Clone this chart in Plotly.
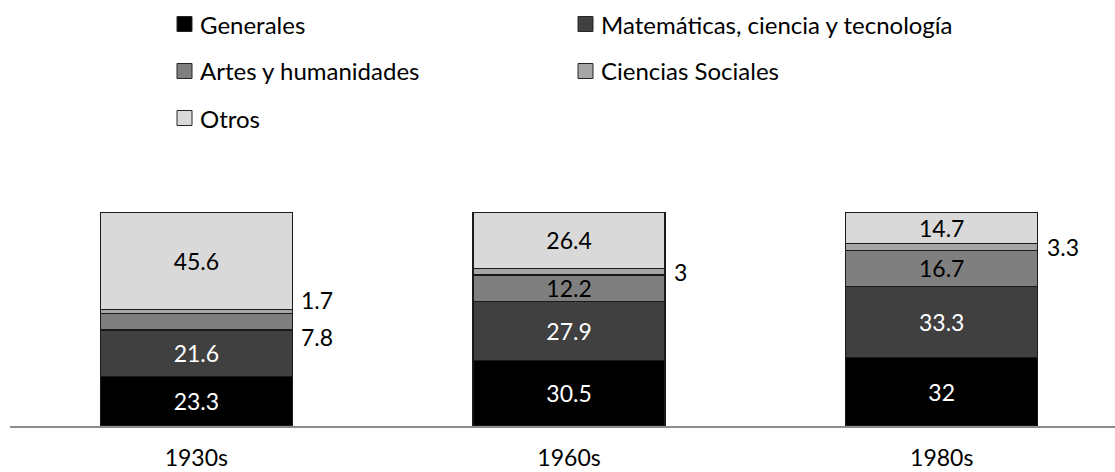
import plotly.graph_objects as go

categories = ["1930s", "1960s", "1980s"]
series_names = ["Generales", "Matemáticas, ciencia y tecnología", "Artes y humanidades",
                "Ciencias Sociales", "Otros"]
generales = [23.3, 30.5, 32]
matematicas = [21.6, 27.9, 33.3]
artes = [7.8, 12.2, 16.7]
sociales = [1.7, 3, 3.3]
otros = [45.6, 26.4, 14.7]

series_values = [generales, matematicas, artes, sociales, otros]
colors = ["#000000", "#404040", "#7f7f7f", "#a6a6a6", "#d9d9d9"]
text_colors = ["white", "white", "black", "black", "black"]

FONT = "Lato"
FS = 23
FS_LEG = 24
W, H = 1115, 472
L, R, T, B = 10, 0, 210, 46
BAR_W = 0.515
OUTSIDE_LIMIT = 10
# vertical pixel nudges for outside labels (series index, category index) -> shift
outside_shift = {(3, 0): 11, (2, 0): -15}

fig = go.Figure()
for si, (name, vals) in enumerate(zip(series_names, series_values)):
    txt = [f"{v:g}" if v >= OUTSIDE_LIMIT else "" for v in vals]
    fig.add_trace(go.Bar(
        x=list(range(len(categories))), y=vals, name=name, width=BAR_W,
        marker=dict(color=colors[si], line=dict(color="#1a1a1a", width=1.2)),
        text=txt, textposition="inside", insidetextanchor="middle",
        constraintext="none", textangle=0,
        textfont=dict(family=FONT, size=FS, color=text_colors[si]),
        showlegend=False, hoverinfo="skip",
    ))

# outside labels for small segments
annotations = []
for ci in range(len(categories)):
    base = 0
    for si, vals in enumerate(series_values):
        v = vals[ci]
        if v < OUTSIDE_LIMIT:
            annotations.append(dict(
                x=ci + BAR_W / 2, y=base + v / 2, xref="x", yref="y",
                text=f"{v:g}", showarrow=False, xanchor="left", yanchor="middle",
                xshift=7, yshift=outside_shift.get((si, ci), 0),
                font=dict(family=FONT, size=FS, color="black"),
            ))
        base += v

# custom legend (2 columns x 3 rows)
plot_w = W - L - R
plot_h = H - T - B
def px_x(px):
    return (px - L) / plot_w
def px_y(py):
    return (H - B - py) / plot_h

col_x = [177, 578]
row_y = [24, 71, 118]
shapes = []
for i, name in enumerate(series_names):
    cx = col_x[i % 2]
    cy = row_y[i // 2]
    shapes.append(dict(type="rect", xref="paper", yref="paper",
                       x0=px_x(cx), x1=px_x(cx + 15), y0=px_y(cy + 7.5), y1=px_y(cy - 7.5),
                       fillcolor=colors[i], line=dict(color="#262626", width=1)))
    annotations.append(dict(x=px_x(cx + 21), y=px_y(cy), xref="paper", yref="paper",
                            text=name, showarrow=False, xanchor="left", yanchor="middle",
                            font=dict(family=FONT, size=FS_LEG, color="black")))

fig.update_layout(
    width=W, height=H, barmode="stack",
    margin=dict(l=L, r=R, t=T, b=B, autoexpand=False),
    paper_bgcolor="white", plot_bgcolor="white",
    shapes=shapes, annotations=annotations,
    xaxis=dict(tickmode="array", tickvals=list(range(len(categories))), ticktext=categories,
               range=[-0.5, 2.465], showline=True, linecolor="#8c8c8c", linewidth=2,
               showgrid=False, zeroline=False, ticks="", ticklabelstandoff=10,
               automargin=False,
               tickfont=dict(family=FONT, size=FS, color="black")),
    yaxis=dict(range=[0, 101], visible=False, showgrid=False, zeroline=False,
               automargin=False),
)

fig.write_html("out.html", config={"displayModeBar": False},
               post_script="document.body.style.margin='0';document.body.style.overflow='hidden';")
